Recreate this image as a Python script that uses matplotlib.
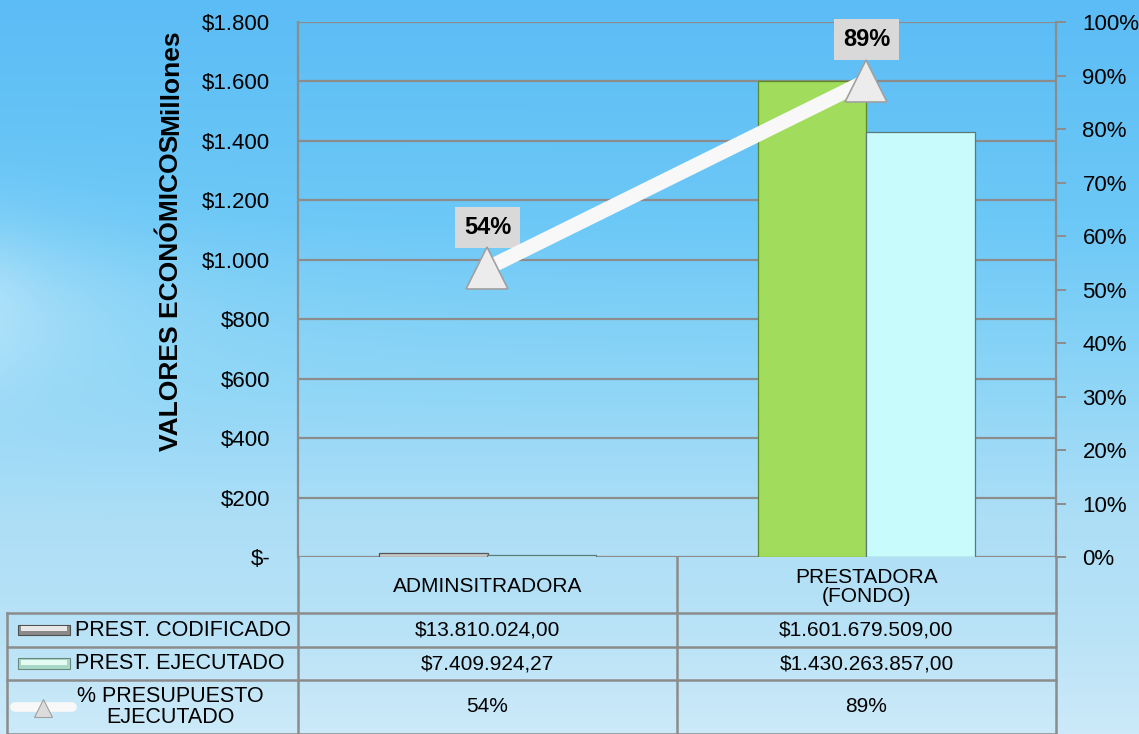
import numpy as np
import matplotlib
matplotlib.use("Agg")
import matplotlib.pyplot as plt
from matplotlib.lines import Line2D
from matplotlib.patches import Rectangle
import matplotlib.transforms as mtransforms

plt.rcParams['font.family'] = ['Liberation Sans', 'DejaVu Sans']

# data
categories = ['ADMINSITRADORA', 'PRESTADORA\n(FONDO)']
codificado = [13810024.00, 1601679509.00]
ejecutado = [7409924.27, 1430263857.00]
pct_ejecutado = [0.54, 0.89]
series_names = ['PREST. CODIFICADO', 'PREST. EJECUTADO', '% PRESUPUESTO\nEJECUTADO']
y_ticks = [0, 200, 400, 600, 800, 1000, 1200, 1400, 1600, 1800]
pct_ticks = [0, 0.1, 0.2, 0.3, 0.4, 0.5, 0.6, 0.7, 0.8, 0.9, 1.0]

W, H = 1139, 734
GRID = '#8c8c8c'
cod_colors = ['#c8c8c8', '#a2dc5c']
cod_edges = ['#555555', '#5a8a2a']
eje_color = '#c8fbfb'


def fx(px):
    return px / W


def fy(py):
    return 1 - py / H


def money(v):
    s = '{:,.2f}'.format(v)
    return '$' + s.replace(',', '#').replace('.', ',').replace('#', '.')


def ytick_fmt(v, pos=None):
    if v == 0:
        return '$-'
    return '$' + '{:,.0f}'.format(v).replace(',', '.')


fig = plt.figure(figsize=(W / 100, H / 100), dpi=100)

# sky background
bg = fig.add_axes([0, 0, 1, 1], zorder=-10)
stops = np.array([0.0, 0.3, 0.5, 0.7, 0.85, 1.0])
cols = np.array([
    [92, 188, 245],
    [108, 200, 246],
    [138, 212, 246],
    [172, 222, 246],
    [184, 226, 246],
    [204, 234, 249],
]) / 255.0
yy = np.linspace(0, 1, 400)
xx = np.linspace(0, 1, 200)
grad = np.stack([np.interp(yy, stops, cols[:, i]) for i in range(3)], axis=-1)
img = np.repeat(grad[:, None, :], len(xx), axis=1)
# lighter haze towards the left edge, like the cloudy photo
haze = np.exp(-((yy[:, None] - 0.42) / 0.12) ** 2) * np.exp(-xx[None, :] / 0.12) * 0.35
img = img + (1 - img) * haze[:, :, None]
bg.imshow(img, aspect='auto', extent=[0, 1, 0, 1])
bg.axis('off')

x0, x1, ytop, ybot = 298, 1056, 22, 557
ax = fig.add_axes([fx(x0), fy(ybot), fx(x1) - fx(x0), fy(ytop) - fy(ybot)])
ax.set_facecolor('none')

x = np.arange(len(categories))
bw = 0.285
cod_m = np.array(codificado) / 1e6
eje_m = np.array(ejecutado) / 1e6
ax.bar(x - bw / 2, cod_m, bw, color=cod_colors, edgecolor=cod_edges, linewidth=0.9, zorder=3)
ax.bar(x + bw / 2, eje_m, bw, color=eje_color, edgecolor='#5a7a7a', linewidth=0.9, zorder=3)

ax.set_xlim(-0.5, len(categories) - 0.5)
ax.set_ylim(0, 1800)
ax.set_yticks(y_ticks)
ax.yaxis.set_major_formatter(plt.FuncFormatter(ytick_fmt))
ax.tick_params(axis='y', length=0, pad=20, labelsize=16)
ax.set_xticks([])
ax.grid(axis='y', color=GRID, linewidth=1.6, zorder=0)
for s in ['top', 'right', 'bottom']:
    ax.spines[s].set_visible(False)
ax.spines['left'].set_color(GRID)
ax.spines['left'].set_linewidth(1.6)

ax2 = ax.twinx()
ax2.set_ylim(0, 1.0)
ax2.set_yticks(pct_ticks)
ax2.yaxis.set_major_formatter(plt.FuncFormatter(lambda v, p: '{:.0f}%'.format(v * 100)))
ax2.tick_params(axis='y', length=7, width=1.4, color=GRID, pad=12, labelsize=16)
for s in ['top', 'left', 'bottom']:
    ax2.spines[s].set_visible(False)
ax2.spines['right'].set_color(GRID)
ax2.spines['right'].set_linewidth(1.6)
ax2.plot(x, pct_ejecutado, color='#f8f8f8', linewidth=10.5, solid_capstyle='butt', zorder=4)
ax2.plot(x, pct_ejecutado, linestyle='none', marker='^', markersize=30,
         markerfacecolor='#ececec', markeredgecolor='#a0a0a0', markeredgewidth=1.2, zorder=5)
for xi, p in zip(x, pct_ejecutado):
    ax2.annotate('{:.0f}%'.format(p * 100), (xi, p), xytext=(0, 29.5), textcoords='offset points',
                 ha='center', va='center', fontsize=17, fontweight='bold',
                 bbox=dict(boxstyle='square,pad=0.38', facecolor='#d9d9d9', edgecolor='none'))

# axis titles
fig.text(fx(171), fy(293), 'VALORES ECONÓMICOS', rotation=90, ha='center', va='center',
         fontsize=19, fontweight='bold')
fig.text(fx(171), fy(82), 'Millones', rotation=90, ha='center', va='center',
         fontsize=19, fontweight='bold')

# data table
tr = mtransforms.blended_transform_factory(ax.transData, fig.transFigure)
rows_y = [557, 613, 647, 680, 734]
lw = 1.8
for cx in [-0.5, 0.5, 1.5]:
    fig.add_artist(Line2D([cx, cx], [fy(rows_y[0]), fy(rows_y[-1])], transform=tr,
                          color=GRID, linewidth=lw))
for ry in rows_y[1:]:
    fig.add_artist(Line2D([fx(7), fx(x1)], [fy(ry), fy(ry)], color=GRID, linewidth=lw))
fig.add_artist(Line2D([fx(7), fx(7)], [fy(rows_y[1]), fy(rows_y[-1])], color=GRID, linewidth=lw))

for xi, cat in zip(x, categories):
    fig.text(xi, fy((rows_y[0] + rows_y[1]) / 2 + 2), cat, transform=tr, ha='center', va='center',
             fontsize=15, linespacing=1.0)
row_vals = [
    [money(v) for v in codificado],
    [money(v) for v in ejecutado],
    ['{:.0f}%'.format(p * 100) for p in pct_ejecutado],
]
for r, vals in enumerate(row_vals):
    yc = fy((rows_y[r + 1] + rows_y[r + 2]) / 2)
    for xi, v in zip(x, vals):
        fig.text(xi, yc, v, transform=tr, ha='center', va='center', fontsize=15)

# legend keys in table
yk = [(rows_y[i] + rows_y[i + 1]) / 2 for i in range(1, 4)]
fig.add_artist(Rectangle((fx(18), fy(yk[0] + 5)), fx(70) - fx(18), fy(yk[0] - 5) - fy(yk[0] + 5),
                         facecolor='#8a8a8a', edgecolor='#505050', linewidth=0.8))
fig.add_artist(Rectangle((fx(21), fy(yk[0] + 1)), fx(67) - fx(21), fy(yk[0] - 4) - fy(yk[0] + 1),
                         facecolor='#e8e8e8', edgecolor='none'))
fig.add_artist(Rectangle((fx(18), fy(yk[1] + 5)), fx(70) - fx(18), fy(yk[1] - 5) - fy(yk[1] + 5),
                         facecolor='#a8d8c8', edgecolor='#6a8a80', linewidth=0.8))
fig.add_artist(Rectangle((fx(21), fy(yk[1] + 1)), fx(67) - fx(21), fy(yk[1] - 4) - fy(yk[1] + 1),
                         facecolor='#e4faf2', edgecolor='none'))
fig.add_artist(Line2D([fx(15), fx(72)], [fy(yk[2]), fy(yk[2])], color='#f8f8f8', linewidth=7,
                      solid_capstyle='round'))
fig.add_artist(Line2D([fx(43)], [fy(yk[2] + 1)], marker='^', markersize=13, markerfacecolor='#dcdcdc',
                      markeredgecolor='#a0a0a0', markeredgewidth=0.8))
for nm, y in zip(series_names[:2], yk[:2]):
    fig.text(fx(75), fy(y), nm, ha='left', va='center', fontsize=15.5)
fig.text(fx(170), fy(yk[2]), series_names[2], ha='center', va='center', fontsize=15.5,
         multialignment='center', linespacing=1.0)

fig.savefig('out.png', dpi=100)
